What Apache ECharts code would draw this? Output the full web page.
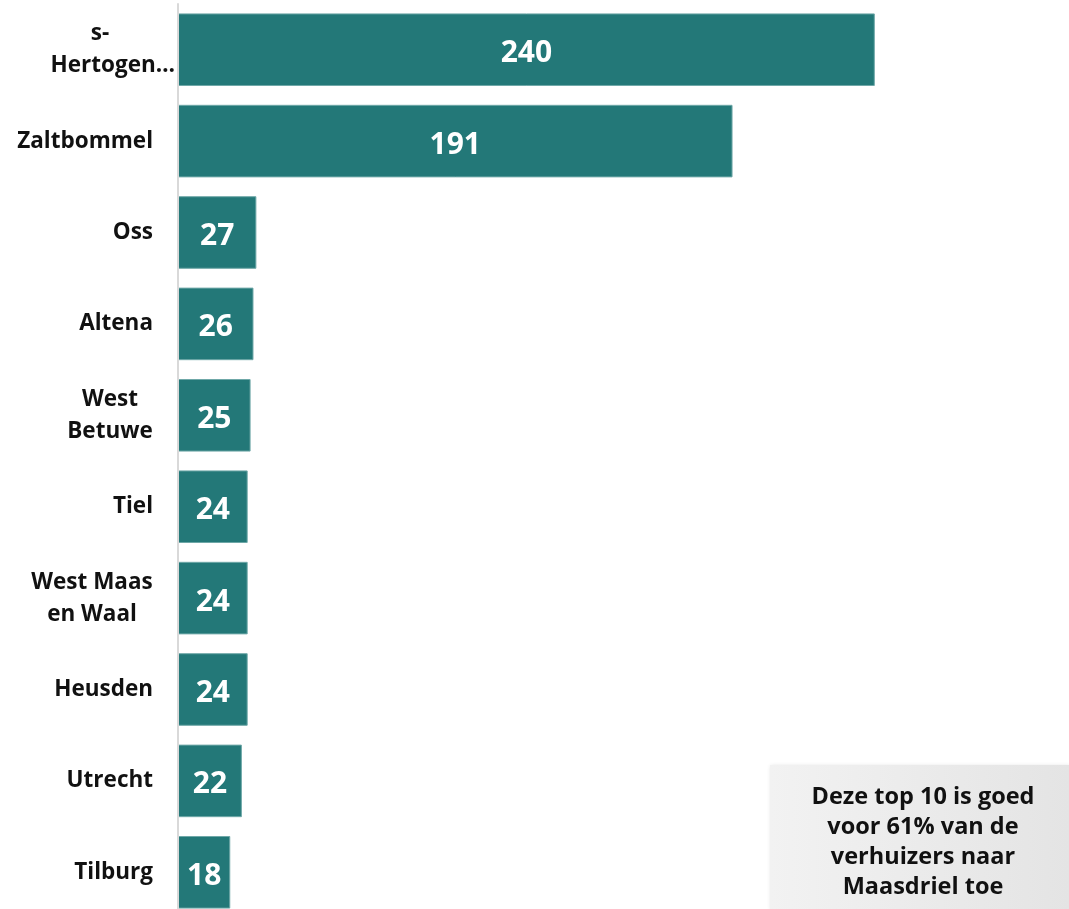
<!DOCTYPE html>
<html><head><meta charset="utf-8">
<script src="https://cdn.jsdelivr.net/npm/echarts@6/dist/echarts.min.js"></script>
<style>html,body{margin:0;padding:0;background:#fff}#c{width:1069px;height:909px}</style>
</head><body><div id="c"></div>
<script>
const categories = ['s-\nHertogen…', 'Zaltbommel', 'Oss', 'Altena', 'West\nBetuwe', 'Tiel', 'West Maas\nen Waal', 'Heusden', 'Utrecht', 'Tilburg'];
const values = [240, 191, 27, 26, 25, 24, 24, 24, 22, 18];
const noteLines = ['Deze top 10 is goed', 'voor 61% van de', 'verhuizers naar', 'Maasdriel toe'];

const FONT = '"Open Sans", "DejaVu Sans", sans-serif';
const LBL = 22.5;
const ctx = document.createElement('canvas').getContext('2d');
ctx.font = 'bold ' + LBL + 'px ' + FONT;
const tw = s => Math.ceil(ctx.measureText(s).width);

const chart = echarts.init(document.getElementById('c'));
chart.setOption({
  animation: false,
  grid: { left: 178, top: 4, width: 871, height: 914, containLabel: false, outerBoundsMode: 'none' },
  xAxis: { type: 'value', min: 0, max: 300, show: false },
  yAxis: {
    type: 'category', inverse: true, data: categories,
    axisLine: { show: true, lineStyle: { color: '#d9d9d9', width: 2 } },
    axisTick: { show: false },
    axisLabel: {
      margin: 3,
      color: '#111', fontWeight: 'bold', fontSize: LBL, fontFamily: FONT,
      lineHeight: 32,
      formatter: function (v) {
        const lines = v.split('\n');
        if (lines.length === 1) return '{n|' + v + '}';
        if (v.indexOf('Hertogen') >= 0) {
          return '{s|' + lines[0] + '}\n{h|' + lines[1] + '}';
        }
        const w = Math.max.apply(null, lines.map(tw));
        return lines.map(l => '{m' + w + '|' + l + '}').join('\n');
      },
      rich: (function () {
        const base = { color: '#111', fontWeight: 'bold', fontSize: LBL, fontFamily: FONT, lineHeight: 32 };
        const r = {
          n: Object.assign({}, base, { padding: [0, 22, 0, 0] }),
          h: Object.assign({}, base, { padding: [0, 0, 0, 0] }),
          s: Object.assign({}, base, { width: tw('Hertogen'), align: 'center', padding: [0, 22, 0, 0] })
        };
        categories.forEach(c => {
          const lines = c.split('\n');
          if (lines.length > 1) {
            const w = Math.max.apply(null, lines.map(tw));
            r['m' + w] = Object.assign({}, base, { width: w, align: 'center', padding: [0, 22, 0, 0] });
          }
        });
        return r;
      })()
    },
    z: 5
  },
  series: [{
    type: 'bar', data: values, barCategoryGap: '20.6%',
    itemStyle: { color: '#237878', borderColor: '#6fa8a8', borderWidth: 1 },
    label: {
      show: true, position: 'inside', color: '#fff', fontWeight: 'bold',
      fontSize: 30, fontFamily: FONT, offset: [0, 4]
    }
  }],
  graphic: [
    {
      type: 'rect', left: 770, top: 765, shape: { width: 299, height: 144 },
      style: {
        fill: new echarts.graphic.LinearGradient(0, 0, 1, 0, [
          { offset: 0, color: '#f2f2f2' }, { offset: 1, color: '#e4e4e4' }
        ]),
        shadowBlur: 4, shadowColor: 'rgba(0,0,0,0.15)', shadowOffsetX: 1, shadowOffsetY: 1
      }
    },
    {
      type: 'text', x: 923, y: 842,
      style: {
        text: noteLines.join('\n'), fill: '#111', font: 'bold 23.5px ' + FONT,
        align: 'center', verticalAlign: 'middle', lineHeight: 30
      }
    }
  ]
});
</script></body></html>
